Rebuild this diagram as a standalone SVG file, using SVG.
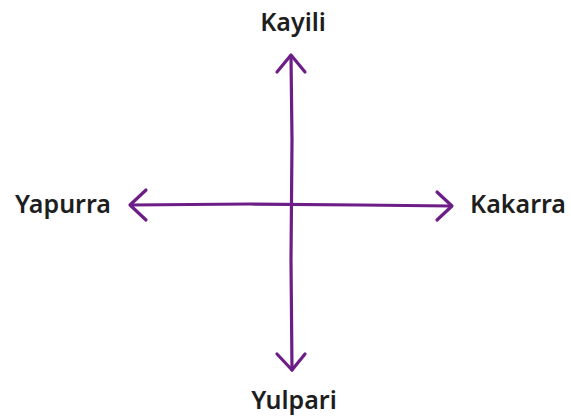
<svg xmlns="http://www.w3.org/2000/svg" width="571" height="416" viewBox="0 0 571 416">
<style>
.lbl{font-family:"Noto Sans","Open Sans","Liberation Sans",sans-serif;font-weight:600;font-size:25px;fill:#1e1e1e;}
.ln{stroke:#6c1d86;stroke-width:3.2;fill:none;stroke-linecap:round;stroke-linejoin:round;}
</style>
<rect width="571" height="416" fill="#fff"/>
<g id="connectors">
<path class="ln" d="M291,56 L292,140 L291,260 L292,370"/>
<path class="ln" d="M277,72 L291,55 L305,72"/>
<path class="ln" d="M277,354 L292,370 L305,354"/>
<path class="ln" d="M131,205 L250,204 L360,205 L451,206"/>
<path class="ln" d="M146,190 L130,205 L146,220"/>
<path class="ln" d="M437,192 L452,206 L437,220"/>
</g>
<g id="kayili"><text class="lbl" x="293" y="31" text-anchor="middle">Kayili</text></g>
<g id="yapurra"><text class="lbl" x="63" y="213" text-anchor="middle">Yapurra</text></g>
<g id="kakarra"><text class="lbl" x="518" y="213" text-anchor="middle">Kakarra</text></g>
<g id="yulpari"><text class="lbl" x="294" y="409" text-anchor="middle">Yulpari</text></g>
</svg>
